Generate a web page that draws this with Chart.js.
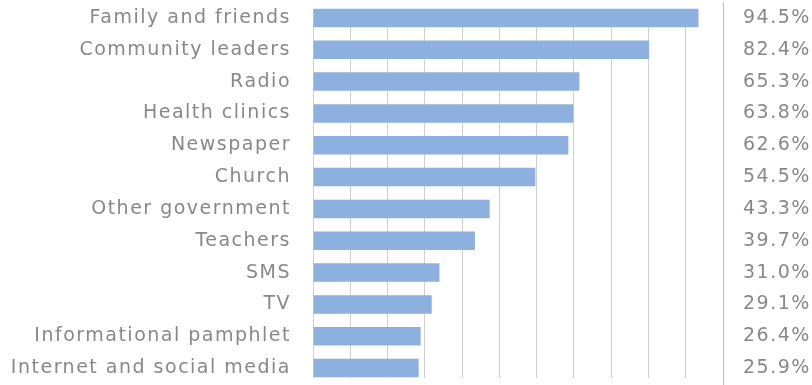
<!DOCTYPE html>
<html>
<head>
<meta charset="utf-8">
<script src="https://cdn.jsdelivr.net/npm/chart.js@4/dist/chart.umd.min.js"></script>
<style>
  html, body { margin: 0; padding: 0; background: #fff; }
  #wrap { width: 812px; height: 385px; position: relative; }
</style>
</head>
<body>
<div id="wrap"><canvas id="chart"></canvas></div>
<script>
const sources = [
  'Family and friends',
  'Community leaders',
  'Radio',
  'Health clinics',
  'Newspaper',
  'Church',
  'Other government',
  'Teachers',
  'SMS',
  'TV',
  'Informational pamphlet',
  'Internet and social media',
];
const shares = [94.5, 82.4, 65.3, 63.8, 62.6, 54.5, 43.3, 39.7, 31.0, 29.1, 26.4, 25.9];
const shareLabels = shares.map((v) => v.toFixed(1) + '%');

const canvas = document.getElementById('chart');
const textFont = { family: 'DejaVu Sans', size: 19 };

// keep the vertical axes from reserving extra room above/below
const noPad = (s) => {
  s.paddingTop = 0;
  s.paddingBottom = 0;
};

const tweaks = {
  id: 'tweaks',
  beforeDraw: (chart) => {
    // the wide label lettering of the original
    chart.ctx.letterSpacing = '1.5px';
    // grid lines only run from the top of the first bar to the bottom of the last one
    const s = chart.scales.x;
    if (!s._gridWrapped) {
      const drawGrid = s.drawGrid;
      s.drawGrid = (area) => {
        s._gridLineItems = null;
        drawGrid.call(s, { ...area, top: area.top + 7, bottom: area.bottom - 6 });
      };
      s._gridWrapped = true;
    }
  },
};

new Chart(canvas, {
  type: 'bar',
  data: {
    labels: sources,
    datasets: [
      {
        data: shares,
        backgroundColor: '#8db0df',
        barPercentage: 0.58,
        categoryPercentage: 1,
        yAxisID: 'y',
      },
    ],
  },
  plugins: [tweaks],
  options: {
    indexAxis: 'y',
    responsive: true,
    maintainAspectRatio: false,
    animation: false,
    layout: { autoPadding: false, padding: { top: 2, bottom: 1, left: 0, right: 0 } },
    plugins: { legend: { display: false }, tooltip: { enabled: false } },
    scales: {
      x: {
        min: 0,
        max: 100.5,
        ticks: { display: false, count: 12 },
        grid: { color: '#cfcfcf', lineWidth: 1, drawTicks: false },
        border: { display: false },
        afterFit: (s) => { s.height = 0; },
      },
      y: {
        position: 'left',
        ticks: { color: '#888888', font: textFont, padding: 22 },
        grid: { display: false, drawTicks: false },
        border: { display: false },
        afterFit: (s) => { s.width = 313; noPad(s); },
      },
      y2: {
        type: 'category',
        position: 'right',
        labels: shareLabels,
        offset: true,
        ticks: { color: '#888888', font: textFont, padding: 20 },
        grid: { display: false, drawTicks: false },
        border: { display: true, color: '#bdbdbd' },
        afterFit: (s) => { s.width = 89; noPad(s); },
      },
    },
  },
});
</script>
</body>
</html>
